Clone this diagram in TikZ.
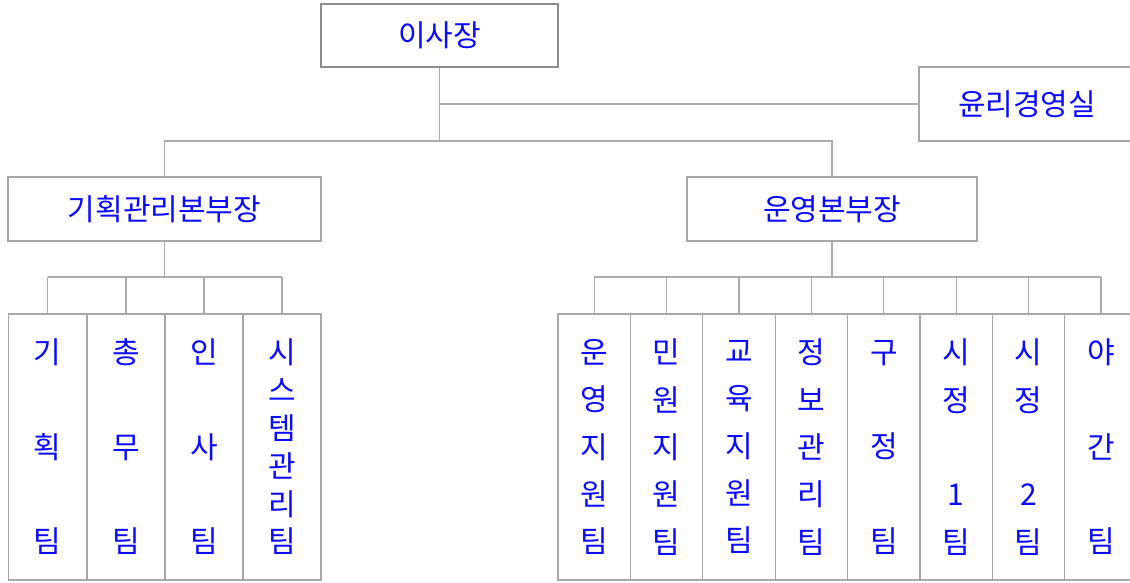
\documentclass[tikz,border=0pt]{standalone}
\usepackage{fontspec}
\newfontfamily\kr{Noto Sans CJK KR}
\definecolor{boxgray}{HTML}{A8A8A8}
\definecolor{ceogray}{HTML}{8C8C8C}
\definecolor{linegray}{HTML}{ABABAB}
\definecolor{txtblue}{HTML}{0A0AFF}
\begin{document}
\begin{tikzpicture}[x=1pt,y=-1pt,
  box/.style={draw=boxgray, line width=1.2pt, rectangle, inner sep=0pt, text=txtblue,
    font=\kr\fontsize{30}{36}\selectfont, align=center},
  ceobox/.style={box, draw=ceogray, line width=1.6pt},
  team/.style={box, minimum height=266pt},
  ltm/.style={team, minimum width=78pt},
  rtm/.style={team, minimum width=72.4pt},
  three/.style={font=\kr\fontsize{30}{94.5}\selectfont},
  five/.style={font=\kr\fontsize{30}{47.3}\selectfont},
  six/.style={font=\kr\fontsize{30}{37.8}\selectfont},
  conn/.style={draw=linegray, line width=1.2pt}]
\useasboundingbox (0,0) rectangle (1130,582);
\clip (0,0) rectangle (1130,582);
% top level
\node[ceobox, minimum width=237pt, minimum height=63pt] (ceo) at (439.5,35.5) {이사장};
\node[box, minimum width=216pt, minimum height=74pt] (eth) at (1027,104) {윤리경영실};
\node[box, minimum width=313pt, minimum height=64pt] (plan) at (164.5,209) {기획관리본부장};
\node[box, minimum width=290pt, minimum height=64pt] (ops) at (832,209) {운영본부장};
% left teams
\node[ltm, three] (l1) at (47.5,447) {기\\획\\팀};
\node[ltm, three] (l2) at (126,447) {총\\무\\팀};
\node[ltm, three] (l3) at (204,447) {인\\사\\팀};
\node[ltm, six] (l4) at (282,447) {시\\스\\템\\관\\리\\팀};
% right teams
\node[rtm, five] (r1) at (594.2,447) {운\\영\\지\\원\\팀};
\node[rtm, five] (r2) at (666.6,447) {민\\원\\지\\원\\팀};
\node[rtm, five] (r3) at (739.0,447) {교\\육\\지\\원\\팀};
\node[rtm, five] (r4) at (811.4,447) {정\\보\\관\\리\\팀};
\node[rtm, three] (r5) at (883.8,447) {구\\정\\팀};
\node[rtm, five] (r6) at (956.2,447) {시\\정\\\mbox{}\\1\\팀};
\node[rtm, five] (r7) at (1028.6,447) {시\\정\\\mbox{}\\2\\팀};
\node[rtm, three] (r8) at (1101.0,447) {야\\간\\팀};
% bus coordinates
\coordinate (hub) at (439.5,141);
\coordinate (lbar) at (0,277);
% connectors
\draw[conn] (ceo.south) -- (hub);
\draw[conn] (ceo.south |- eth.west) -- (eth.west);
\draw[conn] (plan.north) -- (plan.north |- hub) -- (ops.north |- hub) -- (ops.north);
\draw[conn] (plan.south) -- (plan.south |- lbar);
\draw[conn] (l1.north |- lbar) -- (l4.north |- lbar);
\foreach \n in {l1,l2,l3,l4} \draw[conn] (\n.north) -- (\n.north |- lbar);
\draw[conn] (ops.south) -- (ops.south |- lbar);
\draw[conn] (r1.north |- lbar) -- (r8.north |- lbar);
\foreach \n in {r1,r2,r3,r4,r5,r6,r7,r8} \draw[conn] (\n.north) -- (\n.north |- lbar);
\end{tikzpicture}
\end{document}
